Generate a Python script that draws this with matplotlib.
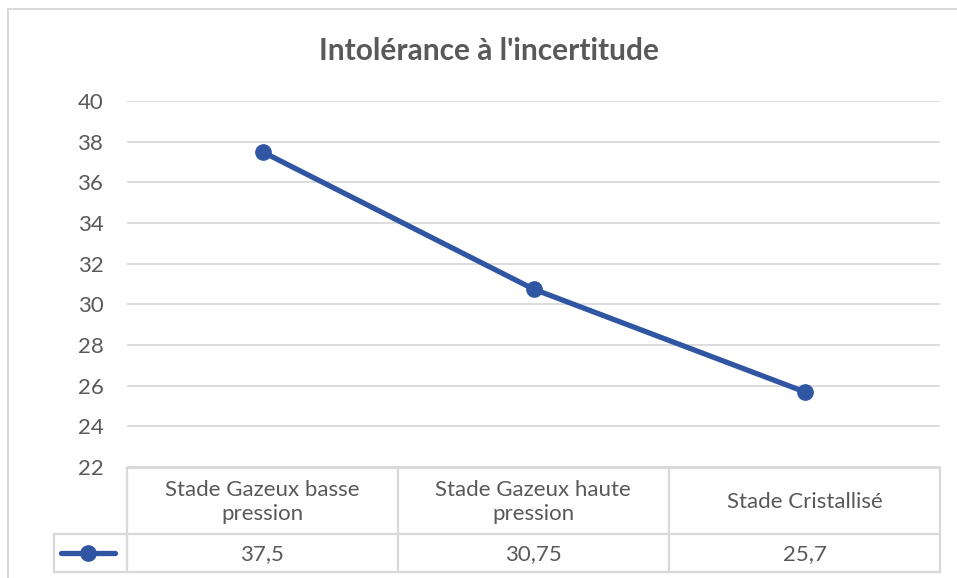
import numpy as np
import matplotlib.pyplot as plt
from matplotlib.lines import Line2D

# ── Données ──────────────────────────────────────────────────────────────────
categories = ["Stade Gazeux basse\npression", "Stade Gazeux haute\npression",
              "Stade Cristallisé"]
values = [37.5, 30.75, 25.7]
value_labels = ["37,5", "30,75", "25,7"]
y_ticks = [22, 24, 26, 28, 30, 32, 34, 36, 38, 40]

TXT = '#595959'
GRID = '#d9d9d9'
BLUE = '#2f55a3'
FONT = 'Lato'
FS = 16

W, H = 957, 578
fig = plt.figure(figsize=(W / 100, H / 100), dpi=100)

# axe principal : x 127..940, y 101..467 (pixels)
ax = fig.add_axes([127 / W, 1 - 467 / H, (940 - 127) / W, (467 - 101) / H])
x = np.arange(len(values))
ax.plot(x, values, color=BLUE, lw=3.8, marker='o', ms=11, zorder=5,
        solid_capstyle='round')
ax.set_xlim(-0.5, 2.5)
ax.set_ylim(22, 40)
ax.set_yticks(y_ticks)
ax.set_yticklabels([str(t) for t in y_ticks], fontsize=FS, color=TXT,
                   family=FONT)
ax.set_xticks([])
ax.tick_params(axis='y', length=0, pad=17)
for s in ax.spines.values():
    s.set_visible(False)
ax.yaxis.grid(True, color=GRID, lw=1.3)
ax.set_axisbelow(True)

# ── Tableau de données (sous l'axe) ──────────────────────────────────────────
def fx(px):
    return px / W

def fy(py):
    return 1 - py / H

lk = dict(color=GRID, lw=1.6, transform=fig.transFigure)
y_top, y_mid, y_bot = 468, 534, 571.5
x_leg, x0, x1 = 54, 126.5, 940
col_edges = [x0, 397.5, 669, x1]
# horizontales
fig.add_artist(Line2D([fx(x0), fx(x1)], [fy(y_top)] * 2, **lk))
fig.add_artist(Line2D([fx(x_leg), fx(x1)], [fy(y_mid)] * 2, **lk))
fig.add_artist(Line2D([fx(x_leg), fx(x1)], [fy(y_bot)] * 2, **lk))
# verticales
for cx in col_edges:
    fig.add_artist(Line2D([fx(cx)] * 2, [fy(y_top), fy(y_bot)], **lk))
fig.add_artist(Line2D([fx(x_leg)] * 2, [fy(y_mid), fy(y_bot)], **lk))

for i, (cat, val) in enumerate(zip(categories, value_labels)):
    cx = (col_edges[i] + col_edges[i + 1]) / 2
    fig.text(fx(cx), fy((y_top + y_mid) / 2 + 1), cat, ha='center', va='center',
             fontsize=FS, color=TXT, family=FONT, linespacing=1.3)
    fig.text(fx(cx), fy((y_mid + y_bot) / 2 + 1), val, ha='center', va='center',
             fontsize=FS, color=TXT, family=FONT)

# clé de légende
ky = fy((y_mid + y_bot) / 2)
fig.add_artist(Line2D([fx(61), fx(115)], [ky, ky], color=BLUE, lw=3.8,
                      solid_capstyle='round', transform=fig.transFigure))
fig.add_artist(Line2D([fx(88)], [ky], color=BLUE, marker='o', ms=11,
                      transform=fig.transFigure))

# ── Titre et bordure ─────────────────────────────────────────────────────────
fig.text(fx(489), fy(51), "Intolérance à l'incertitude", ha='center',
         va='center', fontsize=21.5, fontweight='bold', color=TXT, family=FONT)

fig.add_artist(Line2D([fx(8), fx(8)], [fy(9), 0], color=GRID, lw=1.5,
                      transform=fig.transFigure))
fig.add_artist(Line2D([fx(8), 1], [fy(9), fy(9)], color=GRID, lw=1.5,
                      transform=fig.transFigure))

fig.savefig('out.png', dpi=100, facecolor='white')
